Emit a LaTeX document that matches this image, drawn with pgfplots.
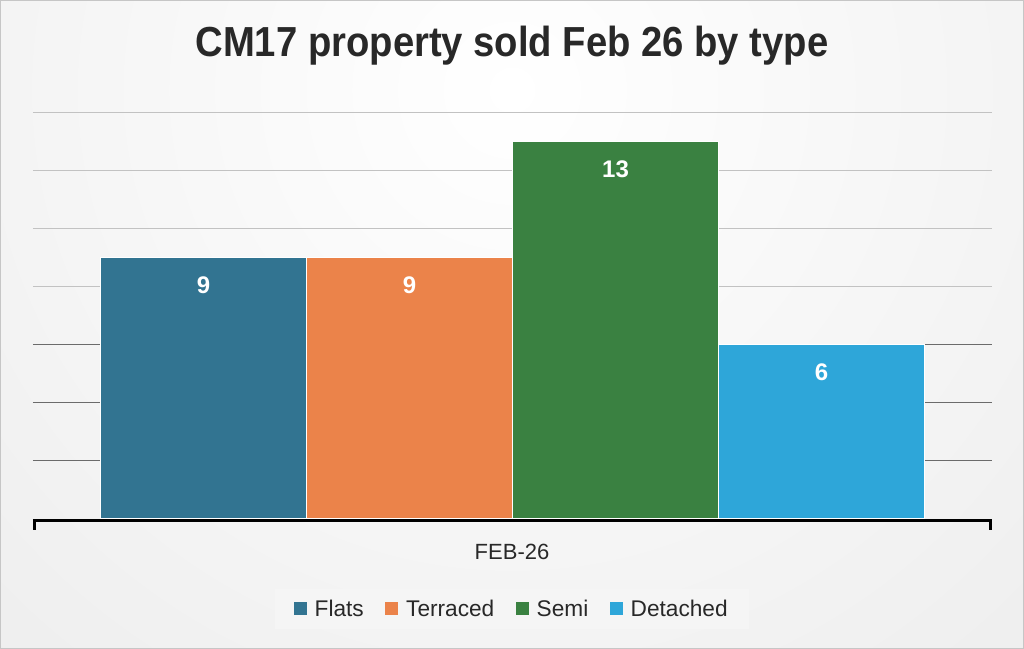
\documentclass[border=0pt]{standalone}
\usepackage{fontspec}
\setmainfont{Liberation Sans}
\newfontfamily\titlefont[FakeStretch=0.91]{Liberation Sans}
\usepackage{pgfplots}
\pgfplotsset{compat=1.18}
\definecolor{cflats}{RGB}{50,116,145}
\definecolor{cterr}{RGB}{235,131,74}
\definecolor{csemi}{RGB}{58,129,65}
\definecolor{cdet}{RGB}{46,166,217}
\definecolor{ctext}{RGB}{40,40,40}
\begin{document}
\begin{tikzpicture}
\useasboundingbox (0,0) rectangle (768pt,486.75pt);
\begin{scope}
\clip (0,0) rectangle (768pt,486.75pt);
\fill[gray!24] (0,0) rectangle (768pt,486.75pt);
\shade[inner color=white, outer color=gray!24] (384pt,419.25pt) circle (1050pt);
\end{scope}
\draw[gray!45, line width=0.6pt] (0.3pt,0.3pt) rectangle (767.7pt,486.45pt);
\begin{axis}[
  at={(24.75pt,96pt)}, anchor=south west,
  scale only axis, width=719.25pt, height=306pt,
  clip=false,
  /pgf/number format/assume math mode=true,
  ybar=0pt, bar width=154.5pt,
  xmin=-479.5, xmax=479.5, ymin=-0.069, ymax=14,
  axis x line*=bottom, axis y line*=left,
  x axis line style={line width=2.25pt, black, -},
  y axis line style={draw=none},
  xtick=\empty,
  xlabel={FEB-26},
  xlabel style={font=\fontsize{16.5}{19}\selectfont, text=ctext, at={(0.4995,0)}, anchor=base, yshift=-29.25pt},
  ytick={2,4,6}, yticklabels={},
  y tick style={draw=none},
  ymajorgrids, grid style={black!58, line width=0.75pt},
  extra y ticks={8,10,12,14}, extra y tick labels={},
  extra y tick style={grid style={black!24, line width=0.75pt}},
  title={\titlefont\bfseries CM17 property sold Feb 26 by type},
  title style={font=\fontsize{31.5}{36}\selectfont, text=ctext, at={(0.4995,1)}, anchor=base, yshift=36pt},
  nodes near coords,
  nodes near coords style={font=\bfseries\fontsize{18}{20}\selectfont, text=white, anchor=center, yshift=-20.25pt},
  legend columns=4,
  legend style={at={(0.4995,-0.2157)}, anchor=center, fill=gray!8, draw=none,
    font=\fontsize{17}{19}\selectfont, text=ctext, inner xsep=14pt, inner ysep=6pt,
    /tikz/every odd column/.append style={column sep=4pt},
    /tikz/every even column/.append style={column sep=14pt}},
  legend image code/.code={\fill[#1,draw=none] (0pt,-4.6pt) rectangle (9.75pt,5.1pt);},
  after end axis/.code={
    \draw[black, line width=2.25pt] ([xshift=1.125pt]rel axis cs:0,0) -- ++(0,-6.75pt);
    \draw[black, line width=2.25pt] ([xshift=-1.125pt]rel axis cs:1,0) -- ++(0,-6.75pt);
  },
]
\addplot[fill=cflats, draw=white, line width=0.75pt] coordinates {(0,9)};
\addplot[fill=cterr, draw=white, line width=0.75pt] coordinates {(0,9)};
\addplot[fill=csemi, draw=white, line width=0.75pt] coordinates {(0,13)};
\addplot[fill=cdet, draw=white, line width=0.75pt] coordinates {(0,6)};
\legend{Flats,Terraced,Semi,Detached}
\end{axis}
\end{tikzpicture}
\end{document}
